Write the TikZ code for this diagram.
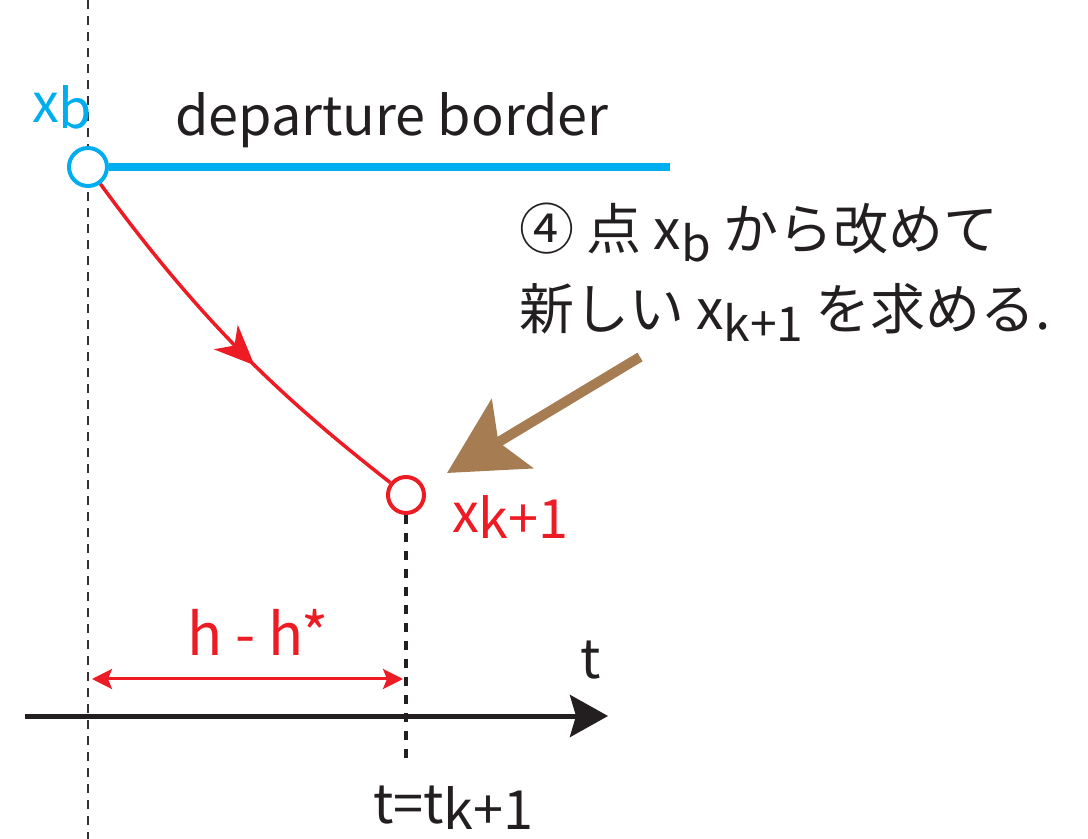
\documentclass[tikz,border=0pt]{standalone}
\usepackage{fontspec}
\setmainfont{Noto Sans CJK JP}
\usetikzlibrary{arrows.meta, positioning, calc, decorations.markings}

\definecolor{borderblue}{RGB}{0,174,239}
\definecolor{pathred}{RGB}{237,28,36}
\definecolor{notebrown}{RGB}{166,124,82}
\definecolor{guidegray}{RGB}{50,50,50}
\definecolor{ink}{RGB}{35,31,32}

\newcommand{\lowidx}[1]{\raisebox{-3pt}{#1}}
\newcommand{\noteidx}[1]{\raisebox{-6pt}{\fontsize{24}{24}\selectfont #1}}

\tikzset{
  pointmark/.style={circle, draw=#1, fill=white, line width=2pt, minimum size=19pt, inner sep=0pt},
  labeltext/.style={font=\fontsize{27}{32}\selectfont, text=ink},
  notetext/.style={font=\fontsize{27.5}{32}\selectfont, text=ink, anchor=base west},
  dashguide/.style={draw=guidegray, line width=1.1pt, dash pattern=on 4.5pt off 3.5pt},
  markguide/.style={draw=ink, line width=2pt, dash pattern=on 4.5pt off 4.5pt},
}

\begin{document}
\begin{tikzpicture}[x=0.5pt, y=-0.5pt]
    \useasboundingbox (0,0) rectangle (1088,839);

    % Guide line through x_b
    \coordinate (guidetop) at (88,0);
    \coordinate (guidebottom) at (88,839);
    \draw[dashguide] (guidetop) -- (guidebottom);

    % Departure border
    \node[pointmark=borderblue] (xb) at (88,167) {};
    \coordinate (borderend) at (670,167);
    \draw[borderblue, line width=4pt] (xb) -- (borderend);
    \node[labeltext, text=borderblue, anchor=base west] (xblabel) at (25,123) {x\lowidx{b}};
    \node[labeltext, anchor=base west] (bordertext) at (168,136) {departure border};

    % Trajectory to x_{k+1}
    \node[pointmark=pathred, minimum size=18pt] (xk) at (406,495) {};
    \draw[pathred, line width=1.75pt, postaction={decorate},
          decoration={markings, mark=at position 0.57 with {\arrow{Stealth[length=20pt, width=17pt, inset=6pt]}}}]
        (xb) .. controls (205,327) and (285,400) .. (xk);
    \node[labeltext, text=pathred, anchor=base west] (xklabel) at (445,533) {x\lowidx{k+1}};

    % Note
    \node[notetext] (noteone) at (512,250) {④ 点 x\noteidx{b} から改めて};
    \node[notetext] (notetwo) at (512,330) {新しい x\noteidx{k+1} を求める.};
    \coordinate (notetail) at (640,357);
    \coordinate (notetip) at (447,473);
    \draw[notebrown, line width=5pt, -{Stealth[length=38pt, width=40pt, inset=8pt]}] (notetail) -- (notetip);

    % Time axis
    \coordinate (axisstart) at (25,716);
    \coordinate (axisend) at (608,716);
    \draw[ink, line width=2.5pt, -{Stealth[length=19pt, width=21pt, inset=3pt]}] (axisstart) -- (axisend);
    \node[labeltext, anchor=base] (tlabel) at (591,678) {t};

    \coordinate (tkbottom) at (406,765);
    \draw[markguide] (xk) -- (tkbottom);
    \node[labeltext, anchor=base west] (tklabel) at (366,823) {t=t\lowidx{k+1}};

    % Step width
    \coordinate (hleft) at (92,679);
    \coordinate (hright) at (403,679);
    \draw[pathred, line width=1.5pt, {Stealth[length=10pt, width=10pt, inset=2pt]}-{Stealth[length=10pt, width=10pt, inset=2pt]}] (hleft) -- (hright);
    \node[labeltext, text=pathred, font=\fontsize{29}{34}\selectfont, anchor=base] (hlabel) at (258,655) {h - h*};
\end{tikzpicture}
\end{document}
